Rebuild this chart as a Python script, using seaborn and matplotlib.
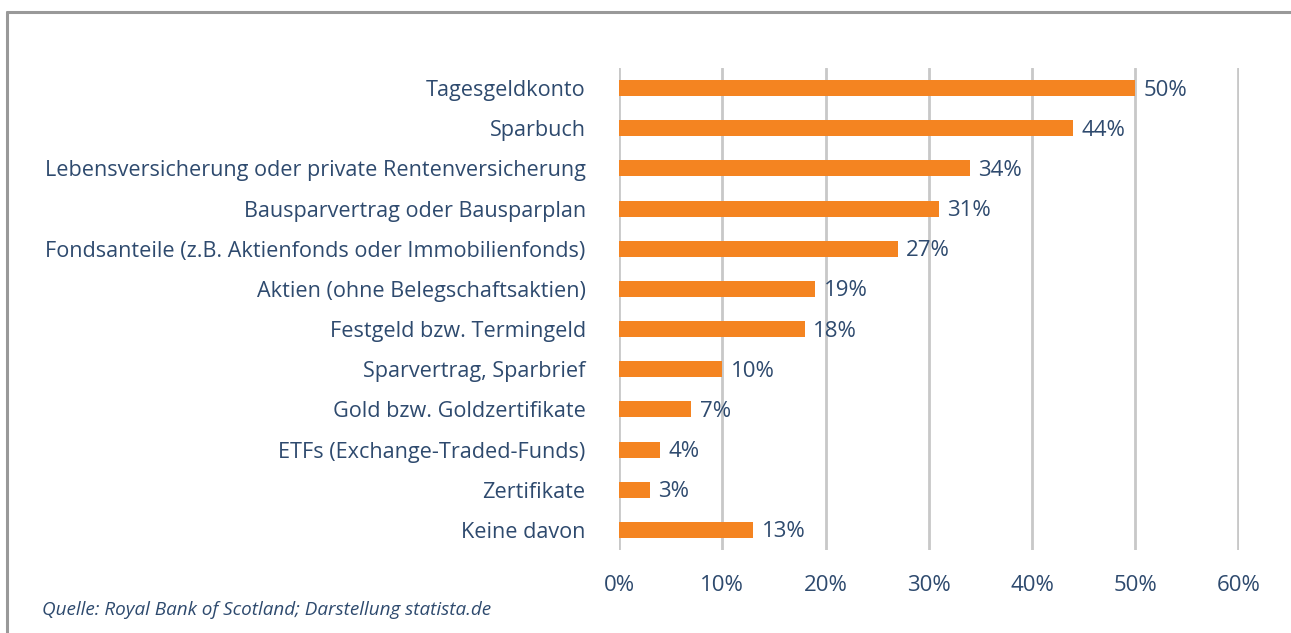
import matplotlib.pyplot as plt
import matplotlib.lines as mlines
import pandas as pd
import seaborn as sns

categories = ['Tagesgeldkonto', 'Sparbuch', 'Lebensversicherung oder private Rentenversicherung',
              'Bausparvertrag oder Bausparplan', 'Fondsanteile (z.B. Aktienfonds oder Immobilienfonds)',
              'Aktien (ohne Belegschaftsaktien)', 'Festgeld bzw. Termingeld', 'Sparvertrag, Sparbrief',
              'Gold bzw. Goldzertifikate', 'ETFs (Exchange-Traded-Funds)', 'Zertifikate', 'Keine davon']
shares = [50, 44, 34, 31, 27, 19, 18, 10, 7, 4, 3, 13]
x_ticks = [0, 10, 20, 30, 40, 50, 60]

df = pd.DataFrame({'Anlage': categories, 'Anteil': shares})

text_color = '#2E4A6E'
bar_color = '#F48421'

sns.set_style('white')
plt.rcParams['font.family'] = ['Open Sans', 'DejaVu Sans']

fig = plt.figure(figsize=(12.91, 6.33), dpi=100)
ax = fig.add_axes([0.4795, 0.1311, 0.4802, 0.7615])

sns.barplot(data=df, x='Anteil', y='Anlage', color=bar_color, width=0.4,
            saturation=1, linewidth=0, ax=ax, zorder=3)

# value labels next to bars
for i, v in enumerate(shares):
    ax.text(v + 0.8, i + 0.05, f'{v}%', va='center', ha='left', fontsize=16, color=text_color)

ax.set_xlim(0, 60.05)
ax.set_ylim(11.5, -0.5)
ax.set_xticks(x_ticks)
ax.set_xticklabels([f'{t}%' for t in x_ticks])
ax.xaxis.grid(True, color='#C8C8C8', linewidth=2, zorder=0)
ax.yaxis.grid(False)
for s in ax.spines.values():
    s.set_visible(False)
ax.tick_params(axis='x', length=0, pad=18, labelsize=16, labelcolor=text_color)
ax.tick_params(axis='y', length=0, pad=24, labelsize=15.6, labelcolor=text_color)
ax.set_xlabel('')
ax.set_ylabel('')

# grey frame (top and left only)
fig.add_artist(mlines.Line2D([7 / 1291, 1], [1 - 12 / 633, 1 - 12 / 633], color='#999999', linewidth=2.2))
fig.add_artist(mlines.Line2D([7 / 1291, 7 / 1291], [0, 1 - 12 / 633], color='#999999', linewidth=2.2))

fig.text(42 / 1291, 1 - 610 / 633, 'Quelle: Royal Bank of Scotland; Darstellung statista.de',
         fontsize=13.6, style='italic', color=text_color, va='center', ha='left')

fig.savefig('out.png', dpi=100)
